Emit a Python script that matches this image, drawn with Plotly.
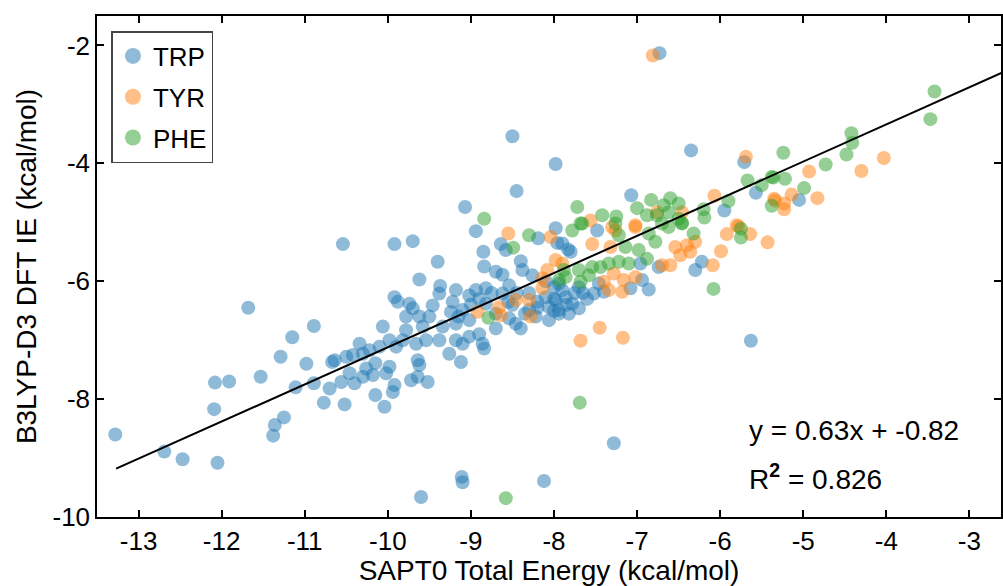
import plotly.graph_objects as go

# ---------------- data ----------------
trp_x = [-6.73, -8.50, -7.98, -8.45, -9.07, -8.94, -8.19, -7.98, -7.96, -10.54, -9.92, -9.70, -8.64, -8.85, -8.58, -7.83,
         -11.68, -10.89, -11.15, -11.29, -13.28, -12.69, -12.47, -12.05, -12.09, -12.08, -11.91, -11.53, -10.98, -10.67,
         -11.11, -10.89, -10.70, -10.77, -11.25, -11.36, -11.38, -9.40, -9.62, -9.37, -8.84, -8.70, -8.62, -8.38, -8.40,
         -8.26, -9.92, -9.88, -9.74, -9.70, -9.78, -9.62, -9.46, -10.06, -9.78, -9.58, -9.38, -9.18, -9.22, -9.02, -8.94,
         -8.82, -9.10, -9.24, -9.02, -9.18, -9.34, -8.70, -8.54, -8.40, -8.82, -8.62, -8.54, -9.38, -9.18, -9.02, -8.86,
         -8.84, -9.10, -9.54, -9.66, -9.82, -9.90, -9.98, -10.10, -10.22, -10.34, -10.30, -10.42, -10.50, -10.64, -10.15,
         -9.98, -9.64, -9.62, -9.12, -9.26, -8.30, -8.46, -8.22, -8.06, -8.06, -7.94, -8.10, -7.98, -7.90, -10.52, -10.04,
         -10.15, -9.94, -9.92, -10.02, -9.72, -9.64, -9.52, -10.56, -10.40, -10.30, -10.18, -10.26, -10.46, -9.11, -9.10,
         -9.60, -8.12, -7.28, -5.63, -6.86, -6.30, -6.22, -6.74, -6.96, -7.08, -7.52, -7.40, -7.70, -7.80, -7.90, -7.48,
         -7.94, -7.86, -7.78, -7.94, -7.82, -7.46, -6.94, -6.35, -5.71, -5.57, -7.07, -5.95, -5.05,
         -8.30, -8.50, -8.00, -7.70, -7.60, -8.70, -8.90, -9.50, -8.20, -7.65,
         -8.20, -8.00, -7.85, -8.35, -8.45, -7.75, -8.10, -8.55, -8.75, -8.00, -9.00, -8.90, -9.15]
trp_y = [-2.13, -3.54, -4.01, -4.47, -4.74, -5.15, -5.27, -5.10, -5.35, -5.37, -5.37, -5.32, -5.37, -5.50, -5.47, -5.46,
         -6.45, -6.76, -6.95, -7.28, -8.60, -8.89, -9.02, -9.08, -8.17, -7.72, -7.70, -7.62, -7.40, -7.37,
         -7.80, -7.73, -7.82, -8.06, -8.31, -8.44, -8.62, -5.67, -5.97, -6.08, -5.75, -5.84, -5.89, -5.81, -5.66,
         -5.90, -6.27, -6.35, -6.38, -6.46, -6.60, -6.60, -6.41, -6.77, -6.83, -6.77, -6.21, -6.15, -6.35, -6.24, -6.15,
         -6.12, -6.49, -6.52, -6.66, -6.72, -6.77, -6.80, -6.63, -6.80, -6.38, -6.21, -6.07, -7.00, -7.00, -6.94, -7.06,
         -7.14, -7.06, -7.00, -7.06, -7.00, -7.11, -7.00, -7.11, -7.17, -7.06, -7.23, -7.25, -7.28, -7.34, -7.39,
         -7.45, -7.34, -7.42, -7.37, -7.23, -6.49, -6.72, -6.60, -6.66, -6.44, -6.55, -6.27, -6.32, -6.15, -8.09, -8.13,
         -7.93, -7.88, -7.76, -7.56, -7.68, -7.62, -7.71, -7.71, -7.73, -7.62, -7.59, -7.48, -7.56, -9.32, -9.41,
         -9.66, -9.39, -8.75, -7.01, -6.14, -5.81, -5.67, -5.76, -5.70, -6.12, -6.21, -6.18, -6.46, -5.50, -5.36, -5.14,
         -6.04, -6.27, -6.38, -6.49, -6.55, -6.04, -5.98, -3.78, -3.98, -4.50, -4.54, -4.80, -4.62,
         -6.20, -6.40, -6.10, -6.10, -6.30, -6.55, -6.90, -6.60, -6.35, -6.20,
         -6.45, -6.50, -6.40, -6.55, -6.20, -6.20, -6.00, -6.35, -6.20, -6.30, -6.40, -6.30, -6.60]

tyr_x = [-6.81, -8.55, -8.04, -8.14, -8.08, -7.98, -7.90, -8.14, -8.46, -8.30, -8.28, -8.64, -8.66, -8.92, -7.68, -7.45,
         -7.17, -6.09, -5.99, -5.92, -5.78, -5.64, -5.43, -6.30, -6.36, -6.48, -6.54, -6.40, -6.60, -6.70, -7.02, -7.18,
         -7.16, -7.34, -7.40, -7.28, -7.54, -7.32, -7.02, -7.26, -5.69, -5.35, -6.07, -6.46, -6.76, -7.02, -7.56, -7.30,
         -5.80, -4.03, -4.30, -4.93, -4.83, -5.14, -5.34, -5.23, -5.23]
tyr_y = [-2.17, -5.19, -5.25, -5.95, -5.81, -5.64, -5.70, -6.12, -6.32, -6.32, -6.60, -6.58, -6.44, -6.52, -7.01, -6.79,
         -6.96, -5.73, -5.49, -5.20, -5.07, -5.20, -5.34, -5.33, -5.50, -5.56, -5.42, -5.39, -5.73, -5.73, -5.93, -6.18,
         -5.98, -6.15, -6.01, -5.87, -5.37, -5.42, -5.08, -5.14, -3.89, -4.60, -4.55, -4.83, -4.83, -5.05, -4.97, -5.08,
         -5.05, -3.91, -4.13, -4.14, -4.59, -4.53, -4.63, -4.68, -4.78]

phe_x = [-8.84, -8.30, -8.49, -7.88, -7.94, -8.79, -8.58, -7.69, -6.08, -5.75, -5.75, -6.32, -6.78, -6.88, -7.78, -7.66,
         -7.22, -7.14, -6.98, -6.86, -6.62, -6.46, -6.70, -7.22, -7.10, -7.34, -7.44, -7.54, -7.70, -7.86, -7.68, -7.58,
         -5.67, -5.50, -5.38, -5.38, -7.72, -7.42, -7.25, -7.00, -6.83, -6.60, -6.50, -5.90, -6.20, -6.19, -6.68, -6.62,
         -6.50, -6.76, -6.88, -6.46, -7.68, -7.26, -3.42, -3.47, -4.42, -4.41, -4.48, -4.73, -5.24, -4.99, -5.22, -5.36]
phe_y = [-4.94, -5.22, -5.43, -5.81, -5.98, -6.62, -9.68, -8.06, -6.13, -5.11, -5.26, -5.19, -5.33, -5.62, -5.14, -5.02,
         -5.22, -5.42, -5.47, -5.19, -5.08, -5.02, -5.02, -5.67, -5.70, -5.70, -5.76, -5.76, -5.81, -5.93, -6.01, -5.90,
         -4.29, -4.37, -4.23, -4.72, -4.74, -4.88, -4.90, -4.76, -4.62, -4.59, -4.68, -4.64, -4.78, -4.92, -4.71, -4.83,
         -4.94, -4.88, -4.88, -5.01, -5.02, -5.02, -2.78, -3.25, -3.49, -3.65, -3.85, -4.02, -3.82, -4.42, -4.26, -4.24]

fit_slope = 0.63
fit_intercept = -0.82
fit_x = [-13.27, -2.6]
fit_y = [fit_slope * v + fit_intercept for v in fit_x]

x_ticks = [-13, -12, -11, -10, -9, -8, -7, -6, -5, -4, -3]
x_ticktext = ["-13", "-12", "-11", "-10", "-9", "-8", "-7", "-6", "-5", "-4", "-3"]
y_ticks = [-10, -8, -6, -4, -2]
y_ticktext = ["-10", "-8", "-6", "-4", "-2"]

FONT = "Liberation Sans, Arial, Helvetica, sans-serif"

fig = go.Figure()
series = [("TRP", trp_x, trp_y, "#1f77b4"),
          ("TYR", tyr_x, tyr_y, "#ff7f0e"),
          ("PHE", phe_x, phe_y, "#2ca02c")]
for name, xs, ys, col in series:
    fig.add_trace(go.Scatter(x=xs, y=ys, mode="markers", name=name, legendgroup=name, showlegend=False,
                             marker=dict(size=14, color=col, opacity=0.5, line=dict(width=0))))
# legend entries (larger symbols, like the reference legend)
for name, xs, ys, col in series:
    fig.add_trace(go.Scatter(x=[None], y=[None], mode="markers", name=name, legendgroup=name,
                             marker=dict(size=20, color=col, opacity=0.5, line=dict(width=0))))

fig.add_trace(go.Scatter(x=fit_x, y=fit_y, mode="lines", line=dict(color="black", width=2),
                         showlegend=False, hoverinfo="skip"))

axis_common = dict(showline=True, linecolor="black", linewidth=1.5, mirror="ticks",
                   ticks="inside", ticklen=7, tickwidth=1.5, tickcolor="black",
                   showgrid=False, zeroline=False,
                   tickfont=dict(family=FONT, size=26, color="black"))

fig.update_layout(
    width=1003, height=586,
    margin=dict(l=97, r=0, t=16, b=69),
    paper_bgcolor="white", plot_bgcolor="white",
    font=dict(family=FONT, color="black"),
    xaxis=dict(range=[-13.5, -2.62], tickvals=x_ticks, ticktext=x_ticktext,
               title=dict(text="SAPT0 Total Energy (kcal/mol)", font=dict(family=FONT, size=28), standoff=2),
               **axis_common),
    yaxis=dict(range=[-10.0, -1.5], tickvals=y_ticks, ticktext=y_ticktext,
               title=dict(text="B3LYP-D3 DFT IE (kcal/mol)", font=dict(family=FONT, size=28), standoff=8),
               **axis_common),
    legend=dict(x=0.016, y=0.97, xanchor="left", yanchor="top",
                bgcolor="white", bordercolor="#444", borderwidth=1.5,
                font=dict(family=FONT, size=26, color="black"),
                tracegroupgap=4, itemsizing="trace"),
    showlegend=True,
)

fig.add_annotation(xref="paper", yref="paper", x=0.7185, y=0.172, xanchor="left", yanchor="middle",
                   text="y = 0.63x + -0.82", showarrow=False, font=dict(family=FONT, size=28, color="black"))
fig.add_annotation(xref="paper", yref="paper", x=0.7185, y=0.080, xanchor="left", yanchor="middle",
                   text="R<sup><b>2</b></sup> = 0.826", showarrow=False, font=dict(family=FONT, size=28, color="black"))

fig.write_html("out.html")
